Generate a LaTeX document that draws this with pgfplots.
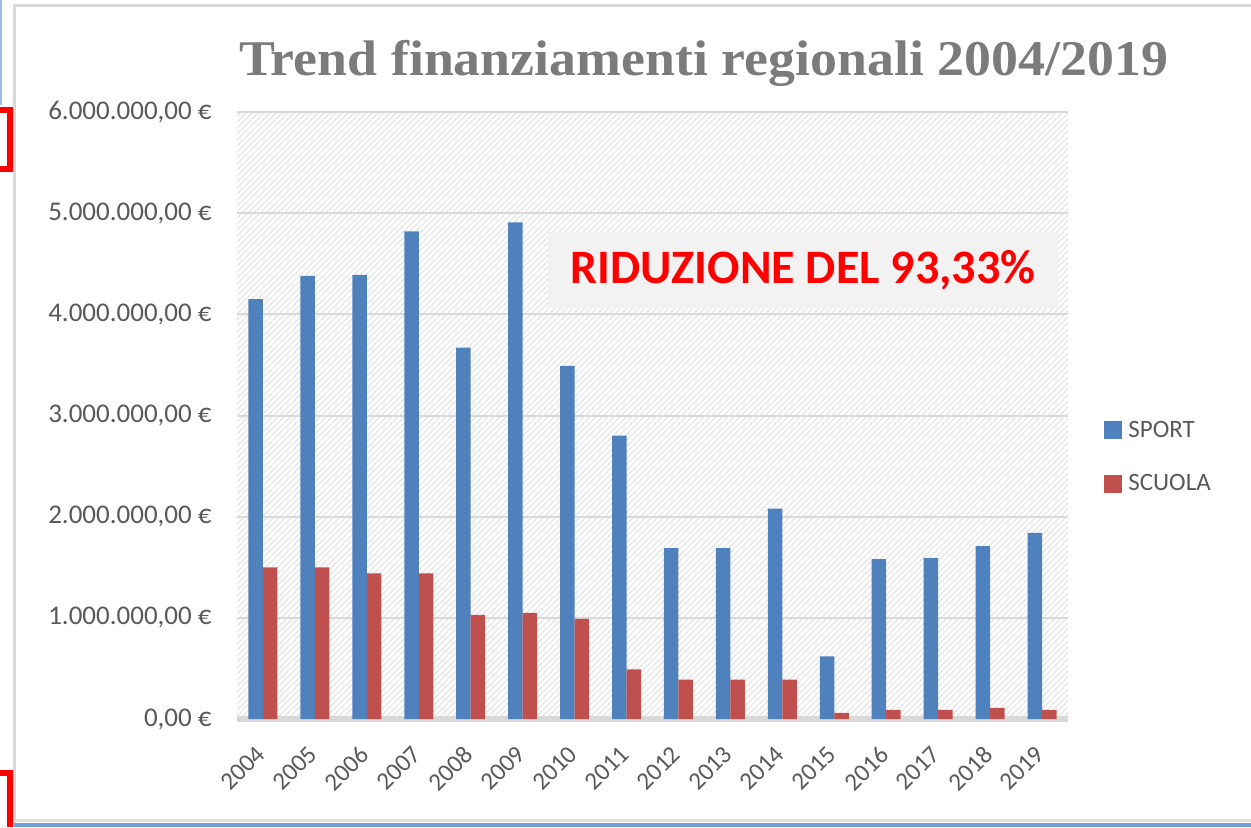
\documentclass[border=0pt]{standalone}
\usepackage{fontspec}
\setmainfont{Carlito}
\newfontfamily\titlefont{Liberation Serif}
\usepackage{graphicx}
\usepackage{pgfplots}
\usepackage{pgfplotstable}
\pgfplotsset{compat=1.18}
\usetikzlibrary{patterns}
\definecolor{sport}{HTML}{4F81BD}
\definecolor{scuola}{HTML}{C0504D}
\definecolor{txt}{HTML}{595959}
\definecolor{titlegray}{HTML}{7B7B7B}
\definecolor{gridc}{HTML}{D9D9D9}
\definecolor{boxbg}{HTML}{F2F2F2}
\definecolor{frameblue}{HTML}{6F9FD8}

\pgfplotstableread{
x sport scuola
0 4150000 1500000
1 4380000 1500000
2 4390000 1440000
3 4820000 1440000
4 3670000 1030000
5 4910000 1050000
6 3490000 990000
7 2800000 490000
8 1690000 390000
9 1690000 390000
10 2080000 390000
11 620000 60000
12 1580000 90000
13 1590000 90000
14 1710000 110000
15 1840000 90000
}\data

\begin{document}
\begin{tikzpicture}
\useasboundingbox (0,0) rectangle (625.5pt,413.5pt);
\fill[white] (0,0) rectangle (625.5pt,413.5pt);
% frame decorations
\draw[gray!30, line width=1.5pt] (7pt,0) -- (7pt,410.5pt) -- (625.5pt,410.5pt);
\draw[gray!25, line width=1.5pt] (7pt,3.5pt) -- (625.5pt,3.5pt);
\draw[frameblue, line width=2pt] (7pt,1pt) -- (625.5pt,1pt);
\draw[frameblue!70, line width=1pt] (0.6pt,361pt) -- (0.6pt,413.5pt);
\draw[red, line width=3pt] (0,358.5pt) -- (5pt,358.5pt) -- (5pt,329pt) -- (0,329pt);
\draw[red, line width=3pt] (0,27pt) -- (5pt,27pt) -- (5pt,0);
% title
\node[anchor=base, inner sep=0pt, font=\titlefont\bfseries\fontsize{25}{30}\selectfont, text=titlegray] at (351.75pt,376pt) {\scalebox{1.077}[1]{Trend finanziamenti regionali 2004/2019}};
\begin{axis}[
  at={(118.5pt,54pt)}, anchor=south west,
  scale only axis, width=415.5pt, height=303.5pt,
  ybar=0pt, bar width=7.25pt,
  xmin=-0.5, xmax=15.5, ymin=0, ymax=6000000,
  xtick={0,...,15},
  xticklabels={2004,2005,2006,2007,2008,2009,2010,2011,2012,2013,2014,2015,2016,2017,2018,2019},
  ytick={0,1000000,2000000,3000000,4000000,5000000,6000000},
  yticklabels={{0,00 €},{1.000.000,00 €},{2.000.000,00 €},{3.000.000,00 €},{4.000.000,00 €},{5.000.000,00 €},{6.000.000,00 €}},
  scaled y ticks=false,
  axis lines*=left,
  y axis line style={draw=none},
  x axis line style={draw=gridc, line width=2.8pt},
  major tick length=0pt,
  tick style={draw=none},
  ymajorgrids,
  grid style={gridc, line width=1pt},
  axis background/.style={fill=white, postaction={pattern=north east lines, pattern color=gray!25}},
  yticklabel style={font=\fontsize{13.5}{15}\selectfont, text=txt, anchor=east, inner sep=0pt, xshift=-12.5pt},
  xticklabel style={font=\fontsize{12.5}{15}\selectfont, text=txt, anchor=north east, inner sep=0pt, yshift=-12.5pt, xshift=-4pt, rotate=45},
  legend style={at={(axis description cs:1.0433,0.4316)}, anchor=west, draw=none, fill=none,
    inner sep=0pt, font=\fontsize{12.5}{15}\selectfont, text=txt, row sep=13pt,
    /tikz/every odd column/.append style={column sep=1pt}},
  legend cell align=left,
  legend image code/.code={\fill[#1] (0pt,-4.5pt) rectangle (9pt,4.5pt);},
]
\addplot[fill=sport, draw=none] table[x=x, y=sport] {\data};
\addplot[fill=scuola, draw=none] table[x=x, y=scuola] {\data};
\legend{SPORT, SCUOLA}
\node[fill=boxbg, minimum width=255pt, minimum height=38pt, inner sep=0pt, text=red,
  font=\bfseries\fontsize{24}{28}\selectfont] at (rel axis cs:0.681,0.7397) {RIDUZIONE DEL 93,33\%};
\end{axis}
\end{tikzpicture}
\end{document}
